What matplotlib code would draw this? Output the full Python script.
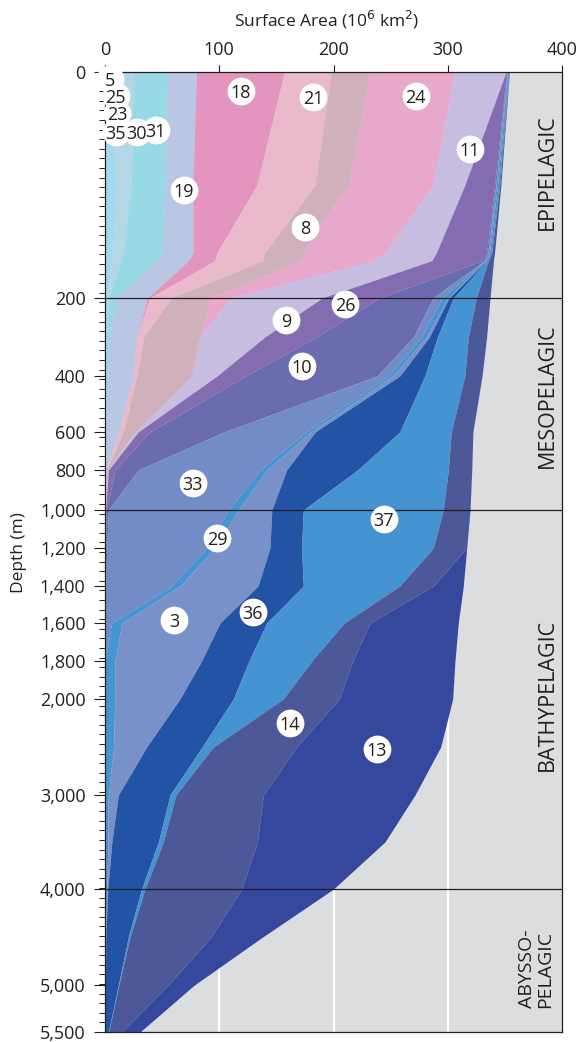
import numpy as np
import matplotlib
matplotlib.use("Agg")
import matplotlib.pyplot as plt

plt.rcParams['font.family'] = ['Open Sans', 'DejaVu Sans']

# depths (m) at which the stacked areas are sampled
depth = [0, 100, 160, 167, 200, 300, 400, 600, 800, 1000, 1200, 1400,
         1600, 1800, 2000, 2500, 3000, 3500, 4000, 4500, 5000, 5500]

# surface area (10^6 km2) per group, stacked left to right
area_35 = [1.5, 2, 2, 1.8, 0.5, 0.3, 0.2, 0.1, 0, 0, 0, 0, 0, 0, 0, 0, 0, 0, 0, 0, 0, 0]
area_30 = [2.5, 7, 5, 4.2, 1, 0.5, 0.3, 0.1, 0, 0, 0, 0, 0, 0, 0, 0, 0, 0, 0, 0, 0, 0]
area_23 = [21, 14, 9, 8, 1.5, 0.7, 0.3, 0.2, 0, 0, 0, 0, 0, 0, 0, 0, 0, 0, 0, 0, 0, 0]
area_31 = [30, 29.5, 34, 31, 7, 2.5, 1.7, 1.1, 0.2, 0, 0, 0, 0, 0, 0, 0, 0, 0, 0, 0, 0, 0]
area_19 = [25, 24.5, 27, 28, 27, 24, 22, 10.5, 0.8, 0.2, 0, 0, 0, 0, 0, 0, 0, 0, 0, 0, 0, 0]
area_18 = [77, 56, 21, 23, 2, 0, 0, 0, 0, 0, 0, 0, 0, 0, 0, 0, 0, 0, 0, 0, 0, 0]
area_21 = [41, 51, 42, 42, 19, 6, 3.5, 4, 0.5, 0.1, 0, 0, 0, 0, 0, 0, 0, 0, 0, 0, 0, 0]
area_8 = [34, 29, 33, 34, 34, 49, 48, 10, 1, 0.2, 0, 0, 0, 0, 0, 0, 0, 0, 0, 0, 0, 0]
area_24 = [74, 74, 72, 63, 18, 0, 0, 0, 0, 0, 0, 0, 0, 0, 0, 0, 0, 0, 0, 0, 0, 0]
area_11 = [45, 28, 45, 51, 80, 57, 22, 3, 0.5, 0.2, 0.2, 0.1, 0, 0, 0, 0, 0, 0, 0, 0, 0, 0]
area_9 = [0.5, 26, 44, 44, 50, 45, 25, 10, 5.8, 0.5, 0.3, 0.1, 0, 0, 0, 0, 0, 0, 0, 0, 0, 0]
area_10 = [0.5, 1, 1, 2, 47, 85, 115, 65, 20.2, 1.8, 1, 0.3, 0.2, 0, 0, 0, 0, 0, 0, 0, 0, 0]
area_33 = [0.3, 0.5, 0.5, 0.5, 8, 7, 10, 72, 107, 105, 87.5, 57.8, 5.6, 0.2, 0, 0, 0, 0, 0, 0, 0, 0]
area_29 = [0.5, 1, 1, 1, 5, 4, 4, 4, 5.5, 8.7, 7.3, 7.3, 8.8, 8.6, 8.5, 7.5, 2.9, 2.5, 1.5, 0.5, 0.3, 0.2]
area_3 = [0.2, 0.5, 0.5, 0.5, 1, 3, 6, 4, 17.5, 29.3, 48.1, 68.4, 86.1, 75.8, 57.1, 29, 8.8, 3.5, 1, 0.2, 0.1, 0.1]
area_36 = [0.3, 0.5, 0.5, 0.5, 4, 7, 22, 74, 62, 27.6, 27.6, 39.6, 40.8, 41.4, 46.7, 48.5, 45.2, 40.7, 29.5, 19.7, 11.3, 2.6]
area_37 = [0.5, 1, 1, 1, 20, 27, 35, 45, 79.5, 122.4, 115.4, 84.4, 68, 55, 43.7, 9.8, 5.2, 4.3, 3, 1.5, 0.5, 0.3]
area_14 = [0.2, 1, 2.5, 4.5, 12, 16, 15, 19, 20.5, 23.5, 29.2, 29.4, 22.5, 35.8, 49, 73, 76.5, 82.3, 84.6, 70.9, 43.2, 11.4]
area_13 = [0, 0, 0, 0, 0, 0, 0, 0, 0, 0, 0, 26.2, 77.2, 89.5, 99.3, 126, 132.7, 111.7, 80.4, 45.2, 22.8, 16]

layers = [area_35, area_30, area_23, area_31, area_19, area_18, area_21, area_8,
          area_24, area_11, area_9, area_10, area_33, area_29, area_3, area_36,
          area_37, area_14, area_13]
colors = ['#a7d9c9', '#9fdaf2', '#b4d7e6', '#98d9e6', '#b9c7e4', '#e394bf',
          '#ebb9cc', '#d0b1bb', '#e8a8cb', '#c6bde0', '#836db0', '#6b6bb0',
          '#748cc6', '#4694d1', '#7892c9', '#2353a5', '#4593d0', '#4c5897',
          '#35489e']

# circled group numbers: label, area position, depth position
group_labels = ['5', '25', '23', '35', '30', '31', '18', '21', '24', '11', '19',
                '8', '26', '9', '10', '33', '29', '37', '3', '36', '14', '13']
label_x = [4.4, 9.2, 10.7, 9.6, 28, 44.5, 119, 182, 272, 319.5, 69,
           175, 210, 158.4, 172.4, 77, 98, 244, 60.4, 129.5, 162, 238]
label_depth = [6, 21, 36.5, 53, 53.5, 51.5, 17, 22.5, 21.5, 68, 104,
               137, 215, 256, 374, 865, 1147, 1047, 1584, 1540, 2250, 2521]

# zone names (one text per printed line) and where they sit
zones = ['EPIPELAGIC', 'MESOPELAGIC', 'BATHYPELAGIC', 'ABYSSO-', 'PELAGIC']
zone_x = [387, 387, 387, 369.5, 385.5]
zone_depth = [89, 472, 1979, 4833, 4833]
zone_size = [15.5, 15.5, 15.5, 14, 14]
zone_lines = [200, 1000, 4000]

depth_ticks = [0, 200, 400, 600, 800, 1000, 1200, 1400, 1600, 1800, 2000,
               3000, 4000, 5000, 5500]
area_ticks = [0, 100, 200, 300, 400]

# the depth axis is stretched piecewise (pixel spacing of each labelled tick)
scale_pos = [0, 226, 304, 360, 398, 438, 476, 514, 551, 589, 627, 723, 817, 913, 960]
ext_d = [-10000] + depth_ticks + [20000]
ext_p = [-11300] + scale_pos + [960 + 14500 * 0.094]


def fwd(d):
    return np.interp(d, ext_d, ext_p)


def inv(p):
    return np.interp(p, ext_p, ext_d)


fig = plt.figure(figsize=(5.79, 10.42), dpi=100)
ax = fig.add_axes([105 / 579, 1 - 1032 / 1042, 457 / 579, 960 / 1042])
ax.set_facecolor('#dcdddf')
ax.set_yscale('function', functions=(fwd, inv))

# white guide lines in the grey background
for xv in [100, 200, 300]:
    ax.axvline(xv, color='white', lw=1.6, zorder=0.5)

left = np.zeros(len(depth))
for vals, c in zip(layers, colors):
    right = left + np.array(vals)
    ax.fill_betweenx(depth, left, right, color=c, lw=0, zorder=1)
    left = right

for zl in zone_lines:
    ax.axhline(zl, color='#231f20', lw=0.9, zorder=4)

ax.scatter(label_x, label_depth, s=400, c='white', linewidths=0, zorder=6, clip_on=False)
for lab, xv, dv in zip(group_labels, label_x, label_depth):
    ax.text(xv, dv, lab, ha='center', va='center_baseline', fontsize=13,
            color='#231f20', zorder=7, clip_on=False)

for z, xv, dv, fs in zip(zones, zone_x, zone_depth, zone_size):
    ax.text(xv, dv, z, rotation=90, ha='center', va='center', fontsize=fs,
            color='#231f20', zorder=5)

ax.set_xlim(0, 400)
ax.set_ylim(5500, 0)
ax.xaxis.tick_top()
ax.set_xticks(area_ticks)
ax.set_xticklabels([str(t) for t in area_ticks])
ax.set_yticks(depth_ticks)
ax.set_yticklabels([f'{t:,}' for t in depth_ticks])
ax.set_yticks(inv(np.linspace(0, 960, 101)), minor=True)
ax.tick_params(axis='x', which='major', labelsize=13, length=5, width=0.8,
               direction='out', colors='#231f20', pad=4)
ax.tick_params(axis='y', which='major', labelsize=13, length=8, width=0.8,
               direction='out', colors='#231f20', pad=6)
ax.tick_params(axis='y', which='minor', length=4.5, width=0.7, colors='#231f20')
ax.tick_params(axis='x', which='minor', length=0)
for sp in ax.spines.values():
    sp.set_color('#231f20')
    sp.set_linewidth(0.9)

fig.text(327 / 579, 1 - 20 / 1042, 'Surface Area (10$^6$ km$^2$)', ha='center',
         va='center', fontsize=12.5, color='#231f20')
fig.text(19 / 579, 1 - 553 / 1042, 'Depth (m)', rotation=90, ha='center',
         va='center', fontsize=12.5, color='#231f20')

fig.savefig('out.png', dpi=100)
